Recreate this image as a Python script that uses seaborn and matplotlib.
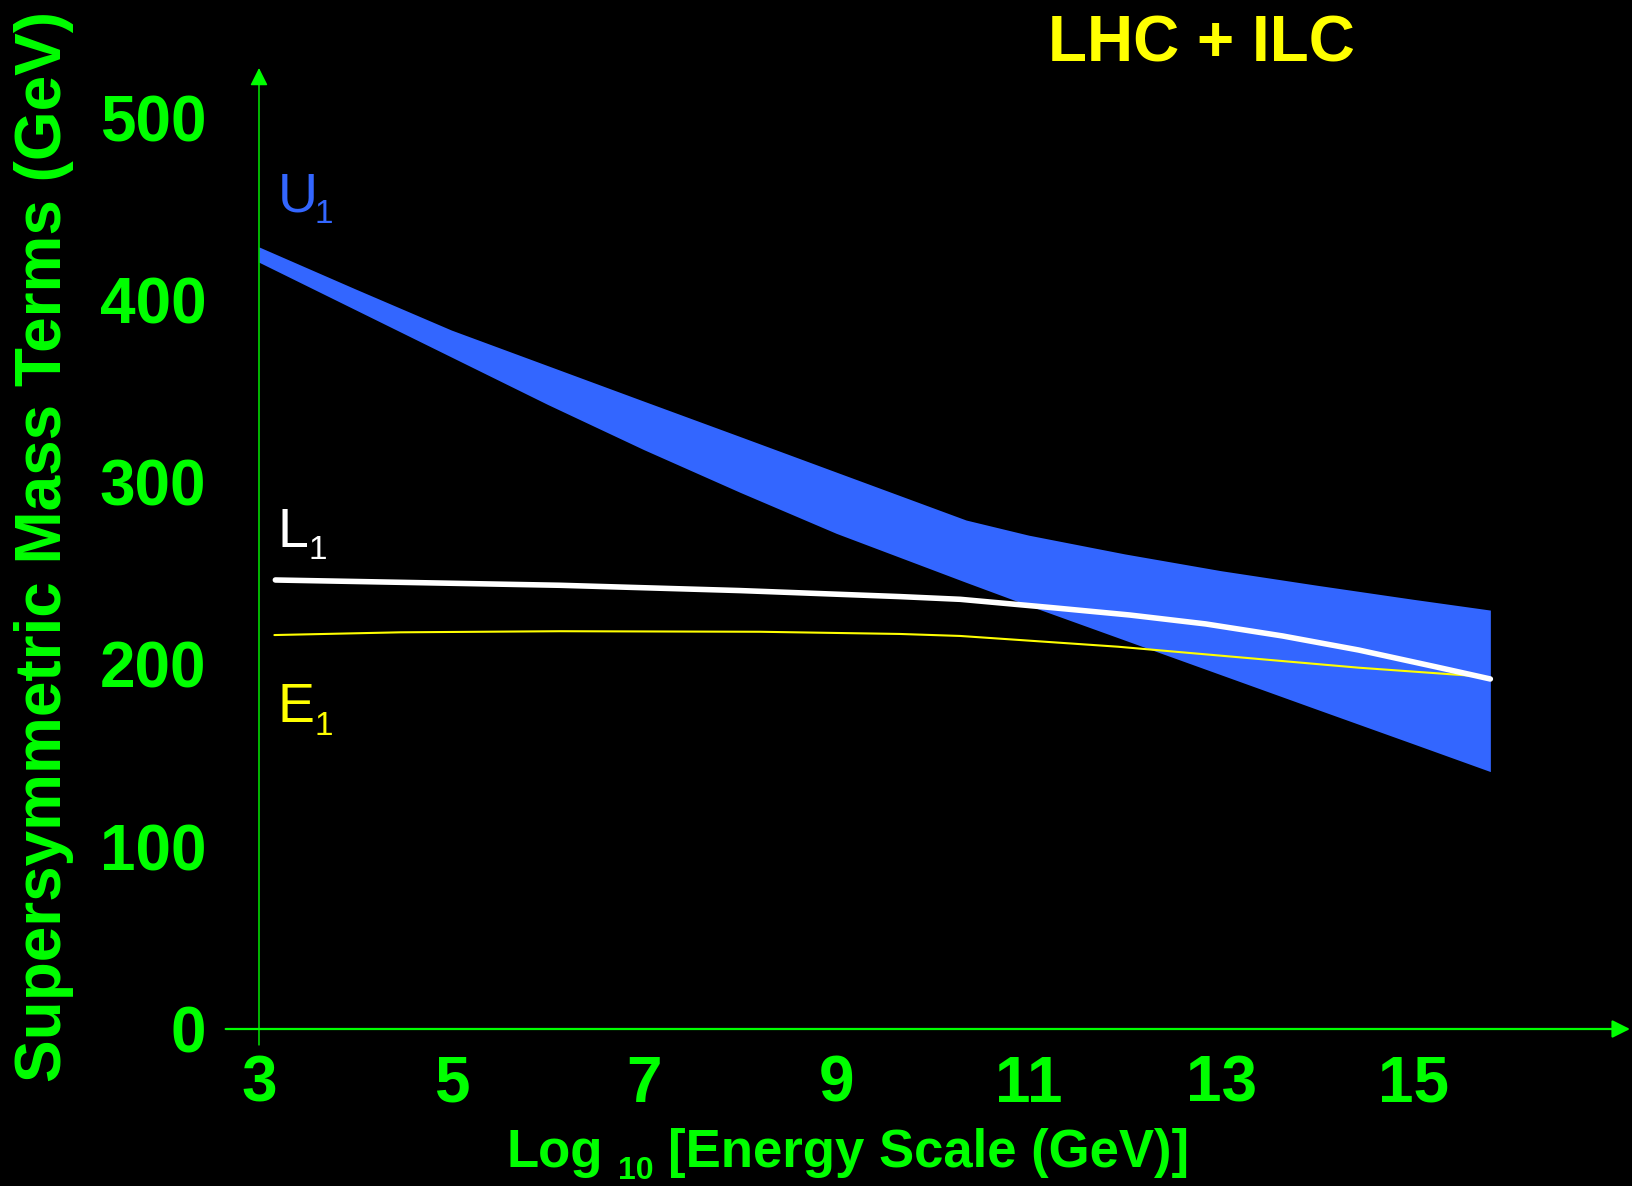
import matplotlib
matplotlib.use("Agg")
import matplotlib.pyplot as plt
import seaborn as sns
import pandas as pd

# ---------------- data ----------------
log_e = [3.0, 4.0, 5.0, 6.0, 7.0, 8.0, 9.0, 10.35, 11.0, 12.0, 13.0, 14.0, 15.0, 15.8]
u1_upper = [429.0, 406.0, 383.4, 363.9, 344.4, 325.0, 305.5, 279.2, 270.9, 260.6, 251.4, 243.4, 235.7, 229.8]
u1_lower = [420.6, 394.6, 368.6, 342.6, 317.8, 294.4, 271.9, 245.0, 232.3, 213.3, 194.3, 175.3, 156.4, 141.2]

l1_x = [3.17, 6.13, 8.0, 9.66, 10.29, 11.25, 12.05, 12.84, 13.64, 14.43, 15.23, 15.8]
l1_y = [246.3, 243.4, 240.5, 237.2, 235.7, 231.1, 227.1, 222.2, 215.6, 207.9, 198.7, 192.0]

e1_x = [3.16, 4.47, 6.13, 8.21, 9.66, 10.29, 11.93, 14.43, 15.65]
e1_y = [216.1, 217.6, 218.2, 217.9, 216.7, 215.6, 209.7, 198.2, 193.6]

x_ticks = [3, 5, 7, 9, 11, 13, 15]
x_tick_labels = ["3", "5", "7", "9", "11", "13", "15"]
y_ticks = [0, 100, 200, 300, 400, 500]
y_tick_labels = ["0", "100", "200", "300", "400", "500"]

title = "LHC + ILC"
y_label = "Supersymmetric Mass Terms (GeV)"

# ---------------- style ----------------
GREEN = "#00FF00"
BLUE = "#3366FF"
YELLOW = "#FFFF00"
sns.set_theme(style="dark", rc={"axes.facecolor": "black", "figure.facecolor": "black"})
plt.rcParams["font.family"] = ["Liberation Sans", "DejaVu Sans"]

W, H = 1633, 1186
fig = plt.figure(figsize=(W / 100, H / 100), dpi=100)
fig.patch.set_facecolor("black")

# axes box in pixel coordinates (from top-left)
ax_l, ax_r, ax_t, ax_b = 225.7, 1630.0, 68.0, 1045.0
ax = fig.add_axes([ax_l / W, 1 - ax_b / H, (ax_r - ax_l) / W, (ax_b - ax_t) / H])
ax.set_facecolor("black")

# data scale: x=3 at px 259, 96.2 px per unit; y=0 at px 1029, 1.823 px per GeV
px_per_x = 96.2
px_per_y = 1.823
x0_px, y0_px = 259.0, 1029.0
ax.set_xlim(3 - (x0_px - ax_l) / px_per_x, 3 + (ax_r - x0_px) / px_per_x)
ax.set_ylim(-(ax_b - y0_px) / px_per_y, (y0_px - ax_t) / px_per_y)

for s in ax.spines.values():
    s.set_visible(False)
ax.grid(False)

# U1 band
ax.fill_between(log_e, u1_lower, u1_upper, color=BLUE, linewidth=0, zorder=2)

# E1 and L1 curves
sns.lineplot(x=e1_x, y=e1_y, color=YELLOW, linewidth=1.5, ax=ax, zorder=3, legend=False)
sns.lineplot(x=l1_x, y=l1_y, color="white", linewidth=4.0, ax=ax, zorder=4, legend=False)

# axes with arrows
xl = ax.get_xlim()
yl = ax.get_ylim()
ax.annotate("", xy=(xl[1], 0), xytext=(xl[0], 0),
            arrowprops=dict(arrowstyle="-|>", color=GREEN, lw=1.6, mutation_scale=27,
                            shrinkA=0, shrinkB=0), annotation_clip=False, zorder=5)
ax.annotate("", xy=(3, yl[1]), xytext=(3, yl[0]),
            arrowprops=dict(arrowstyle="-|>", color=GREEN, lw=1.0, mutation_scale=27,
                            shrinkA=0, shrinkB=0), annotation_clip=False, zorder=5)

# ticks
ax.set_xticks(x_ticks)
ax.set_xticklabels(x_tick_labels)
ax.set_yticks(y_ticks)
ax.set_yticklabels(y_tick_labels)
ax.tick_params(axis="both", length=0, colors=GREEN, labelsize=46)
ax.tick_params(axis="x", pad=7)
ax.tick_params(axis="y", pad=14)
for t in ax.get_xticklabels() + ax.get_yticklabels():
    t.set_fontweight("bold")
    t.set_color(GREEN)


def ftext(x, y, s, **kw):
    fig.text(x / W, 1 - y / H, s, **kw)


# title
ftext(1048, 61, title, color=YELLOW, fontsize=46, fontweight="bold", ha="left", va="baseline")

# y label
ftext(44, 546, y_label, color=GREEN, fontsize=46, fontweight="bold", rotation=90,
      ha="center", va="center")

# x label (with subscript)
ftext(507, 1166.7, "Log", color=GREEN, fontsize=38, fontweight="bold", ha="left", va="baseline")
ftext(618, 1179, "10", color=GREEN, fontsize=23, fontweight="bold", ha="left", va="baseline")
ftext(668, 1166.7, "[Energy Scale (GeV)]", color=GREEN, fontsize=38, fontweight="bold",
      ha="left", va="baseline")

# curve labels
ftext(278, 211.7, "U", color=BLUE, fontsize=40, ha="left", va="baseline")
ftext(315, 223, "1", color=BLUE, fontsize=24, ha="left", va="baseline")
ftext(278, 546.7, "L", color="white", fontsize=40, ha="left", va="baseline")
ftext(309, 559, "1", color="white", fontsize=24, ha="left", va="baseline")
ftext(278, 721.7, "E", color=YELLOW, fontsize=40, ha="left", va="baseline")
ftext(315, 735, "1", color=YELLOW, fontsize=24, ha="left", va="baseline")

fig.savefig("out.png", dpi=100, facecolor="black")
